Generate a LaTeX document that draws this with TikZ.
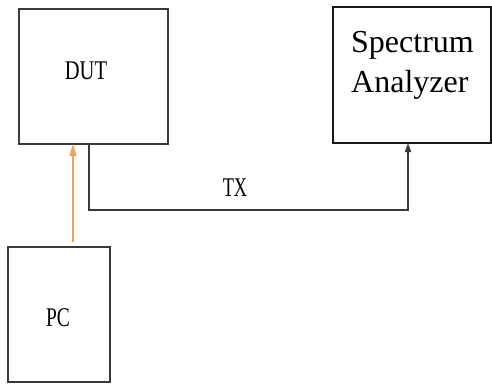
\documentclass[tikz,border=0pt]{standalone}
\usepackage{fontspec}
\setmainfont{Liberation Serif}
\usetikzlibrary{arrows.meta}
\definecolor{linegray}{HTML}{3A3A3A}
\definecolor{orangeln}{HTML}{F0A060}
\begin{document}
\begin{tikzpicture}[x=1pt,y=-1pt,
  box/.style={draw=linegray, line width=2pt, inner sep=0pt, outer sep=0pt},
  cond/.style={inner sep=0pt, font=\fontsize{27}{27}\selectfont, text=black},
  conn/.style={draw=linegray, line width=1.8pt},
  ctrl/.style={draw=orangeln, line width=1.2pt, -{Triangle[width=7pt,length=12pt]}}]
\useasboundingbox (0,0) rectangle (492,383);
\node[box, minimum width=149pt, minimum height=135pt] (dut) at (93.5,76.5) {};
\node[box, draw=black!90, minimum width=158pt, minimum height=136pt] (spec) at (411.5,75) {};
\node[box, minimum width=102pt, minimum height=135pt] (pc) at (59,314.5) {};
\node[cond] (duttext) at (86,71) {\scalebox{0.76}[1]{DUT}};
\node[cond] (pctext) at (58,318) {\scalebox{0.72}[1]{PC}};
\node[cond] (txtext) at (235,188) {\scalebox{0.68}[1]{TX}};
\node[inner sep=0pt, anchor=base west, font=\fontsize{32}{32}\selectfont] (spec1) at (351,52) {Spectrum};
\node[inner sep=0pt, anchor=base west, font=\fontsize{32}{32}\selectfont] (spec2) at (351,92) {Analyzer};
\coordinate (t0) at (89,210);
\coordinate (t1) at (408,210);
\draw[conn, -{Triangle[width=6pt,length=9pt]}] (dut.south -| t0) -- (t0) -- (t1) -- (spec.south -| t1);
\coordinate (o) at (73,0);
\draw[ctrl, shorten <=5pt] (pc.north -| o) -- (dut.south -| o);
\end{tikzpicture}
\end{document}
